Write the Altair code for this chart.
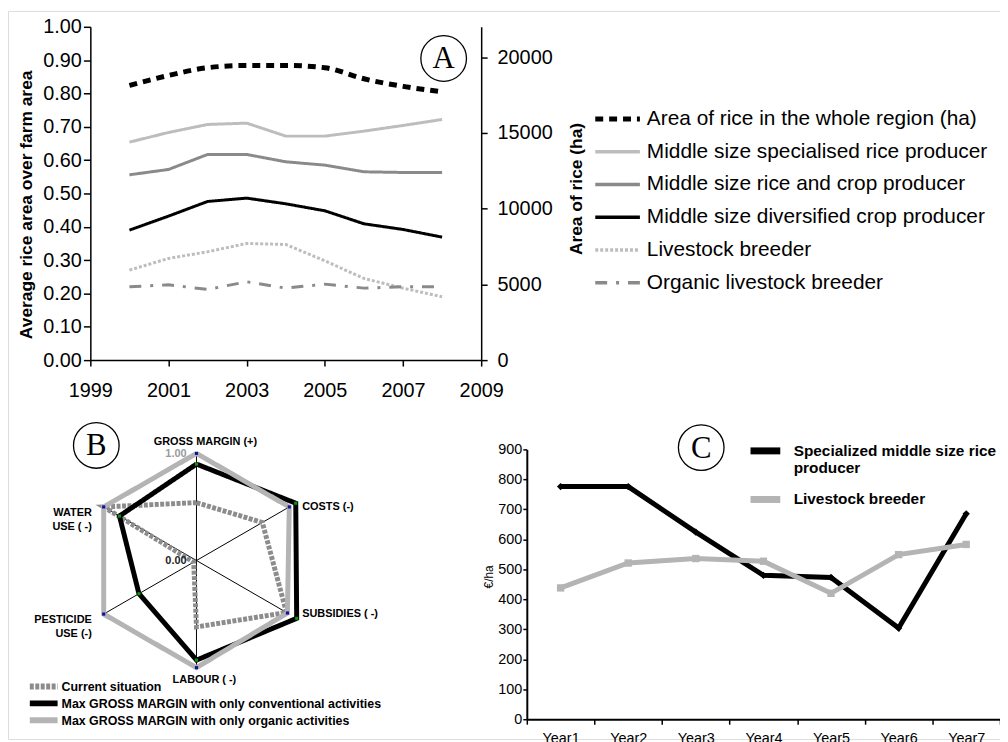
import altair as alt
import pandas as pd

# ---------------- Panel A data ----------------
years_a = [2000, 2001, 2002, 2003, 2004, 2005, 2006, 2007, 2008]
area_rice_ha = [18130, 18790, 19300, 19450, 19450, 19300, 18570, 18070, 17710]
specialised_rice = [0.654, 0.683, 0.707, 0.711, 0.672, 0.672, 0.687, 0.704, 0.722]
rice_and_crop = [0.556, 0.572, 0.617, 0.617, 0.595, 0.585, 0.565, 0.563, 0.563]
diversified_crop = [0.390, 0.432, 0.476, 0.486, 0.469, 0.448, 0.409, 0.392, 0.369]
livestock_a = [0.270, 0.305, 0.325, 0.350, 0.347, 0.298, 0.245, 0.216, 0.190]
organic_livestock = [0.220, 0.226, 0.212, 0.235, 0.216, 0.228, 0.216, 0.220, 0.220]
series_a = [
    "Area of rice in the whole region (ha)",
    "Middle size specialised rice producer",
    "Middle size rice and crop producer",
    "Middle size diversified crop producer",
    "Livestock breeder",
    "Organic livestock breeder",
]
year_ticks_a = [1999, 2001, 2003, 2005, 2007, 2009]
share_ticks = [0.0, 0.1, 0.2, 0.3, 0.4, 0.5, 0.6, 0.7, 0.8, 0.9, 1.0]
ha_ticks = [0, 5000, 10000, 15000, 20000]

# ---------------- Panel B data ----------------
radar_axes = ["GROSS  MARGIN  (+)", "COSTS  (-)", "SUBSIDIES ( -)", "LABOUR ( -)",
              "PESTICIDE\nUSE (-)", "WATER\nUSE ( -)"]
current_situation = [0.54, 0.71, 0.97, 0.62, 0.03, 1.00]
max_gm_conventional = [0.90, 1.07, 1.08, 0.93, 0.62, 0.83]
max_gm_organic = [1.00, 1.00, 0.98, 1.00, 1.00, 1.00]
scenarios = [
    "Current situation",
    "Max GROSS MARGIN with only conventional activities",
    "Max GROSS MARGIN with only organic activities",
]
radar_ticks = [0.0, 1.0]

# ---------------- Panel C data ----------------
years_c = ["Year1", "Year2", "Year3", "Year4", "Year5", "Year6", "Year7"]
specialized_c = [776, 776, 624, 480, 473, 304, 685]
livestock_c = [438, 521, 536, 527, 420, 549, 583]
producers_c = ["Specialized middle size rice producer", "Livestock breeder"]
euro_ticks = [0, 100, 200, 300, 400, 500, 600, 700, 800, 900]

panel_letters = ["A", "B", "C"]

# ---------------- tables ----------------
df_a = pd.DataFrame({
    "year": years_a * 5,
    "share": specialised_rice + rice_and_crop + diversified_crop + livestock_a + organic_livestock,
    "series": [s for s in series_a[1:] for _ in years_a],
})
df_area = pd.DataFrame({"year": years_a, "ha": area_rice_ha})
df_leg_a = pd.DataFrame({"series": series_a, "i": list(range(len(series_a)))})

radar_rows = []
for s, vals in zip(scenarios, [current_situation, max_gm_conventional, max_gm_organic]):
    for k in range(len(radar_axes) + 1):
        radar_rows.append({"scenario": s, "k": k, "value": vals[k % len(radar_axes)]})
df_radar = pd.DataFrame(radar_rows)
df_axes = pd.DataFrame({"k": list(range(len(radar_axes))), "label": radar_axes})
df_rticks = pd.DataFrame({"v": radar_ticks})
df_leg_b = pd.DataFrame({"scenario": scenarios, "i": list(range(len(scenarios)))})

df_c = pd.DataFrame({
    "year": years_c * 2,
    "eur": specialized_c + livestock_c,
    "producer": [p for p in producers_c for _ in years_c],
})

# annotation anchors, in each panel's data units
df_ann_a = pd.DataFrame({"x": [2008.04], "y": [0.905], "t": [panel_letters[0]]})
df_ann_b = pd.DataFrame({"x": [-0.935], "y": [1.074], "t": [panel_letters[1]]})
df_ann_c = pd.DataFrame({"x": [3.08], "y": [906.0], "t": [panel_letters[2]]})

# ---------------- layout / scales ----------------
FONT = "Liberation Sans"
W, H = 1000, 734


def lin(domain, rng):
    return alt.Scale(domain=domain, range=rng, nice=False, zero=False)


xA = lin([1999, 2009], [83, 477])
yA = lin([0, 1], [352, 16])
yA_ha = lin([0, 22000], [352, 16])
xB = lin([-1, 1], [82, 298])
yB = lin([-1, 1], [662, 446])
xC = alt.Scale(type="band", domain=years_c, range=[523, 1000], paddingInner=0, paddingOuter=0)
xC_idx = lin([0.5, 7.5], [523, 1000])
yC = lin([0, 900], [714, 442])
# legend boxes (symbol span 0..1, one row per entry)
xLegA = lin([0, 1], [592, 637])
yLegA = lin([0, len(series_a) - 1], [109, 274])
xLegB = lin([0, 1], [22, 50])
yLegB = lin([0, len(scenarios) - 1], [681, 715])

AX = dict(grid=False, domainColor="black", tickColor="black", labelColor="black",
          titleColor="black", labelFont=FONT, titleFont=FONT, labelFlush=False,
          labelOverlap=False)

# ---------------- Panel A ----------------
colors_a = ["black", "#bdbdbd", "#8a8a8a", "black", "#bdbdbd", "#8a8a8a"]
dashes_a = [[8, 6], [1, 0], [1, 0], [1, 0], [3, 2], [12, 9, 3, 9]]
color_a = alt.Scale(domain=series_a, range=colors_a)
dash_a = alt.Scale(domain=series_a, range=dashes_a)

a_lines = alt.Chart(df_a).mark_line(strokeWidth=3).encode(
    x=alt.X("year:Q", scale=xA, axis=alt.Axis(
        orient="bottom", offset=-(H - 352), values=year_ticks_a, format="d", title=None,
        labelFontSize=20, tickSize=6, labelPadding=15, domainWidth=1.5, tickWidth=1.5, **AX)),
    y=alt.Y("share:Q", scale=yA, axis=alt.Axis(
        orient="left", offset=-83, values=share_ticks, format=".2f",
        title="Average rice area over farm area", titleX=-64, titleY=195,
        titleAngle=270, titleBaseline="middle", titleAlign="center",
        titleFontSize=17.5, titleFontWeight="bold",
        labelFontSize=20, tickSize=7, labelPadding=2, domainWidth=1.5, tickWidth=1.5, **AX)),
    color=alt.Color("series:N", scale=color_a, legend=None),
    strokeDash=alt.StrokeDash("series:N", scale=dash_a, legend=None),
)

a_area = alt.Chart(df_area).mark_line(
    color="black", strokeWidth=5, strokeDash=[8, 6], interpolate="monotone"
).encode(
    x=alt.X("year:Q", scale=xA, axis=None),
    y=alt.Y("ha:Q", scale=yA_ha, axis=alt.Axis(
        orient="right", offset=-(W - 477), values=ha_ticks, format="d",
        title="Area of rice (ha)", titleX=96, titleY=179, titleAngle=270,
        titleBaseline="middle", titleAlign="center", titleFontSize=17.5,
        titleFontWeight="bold", labelFontSize=20, tickSize=6, labelPadding=10,
        domainWidth=1.5, tickWidth=1.5, **AX)),
)

leg_a_sym = alt.Chart(df_leg_a).transform_calculate(x0="0", x1="1").mark_rule().encode(
    x=alt.X("x0:Q", scale=xLegA, axis=None), x2="x1:Q",
    y=alt.Y("i:Q", scale=yLegA, axis=None),
    color=alt.Color("series:N", scale=color_a, legend=None),
    strokeDash=alt.StrokeDash("series:N", scale=dash_a, legend=None),
    strokeWidth=alt.condition("datum.i == 0", alt.value(5), alt.value(3.5)),
)
leg_a_txt = alt.Chart(df_leg_a).transform_calculate(x1="1").mark_text(
    font=FONT, fontSize=21, color="black", align="left", baseline="middle", dx=7
).encode(
    x=alt.X("x1:Q", scale=xLegA, axis=None),
    y=alt.Y("i:Q", scale=yLegA, axis=None),
    text="series:N",
)


def annotation(df, xs, ys):
    base = alt.Chart(df).encode(
        x=alt.X("x:Q", scale=xs, axis=None),
        y=alt.Y("y:Q", scale=ys, axis=None),
    )
    circ = base.mark_point(shape="circle", size=2116, filled=False, color="black",
                           strokeWidth=1.3, opacity=1)
    txt = base.mark_text(font="Liberation Serif", fontSize=31, color="black",
                         align="center", baseline="middle", dy=1).encode(text="t:N")
    return [circ, txt]


# ---------------- Panel B ----------------
trig = dict(theta="datum.k * PI / 3")
spokes = alt.Chart(df_axes).transform_calculate(**trig).transform_calculate(
    sx="sin(datum.theta)", sy="cos(datum.theta)", z="0"
).mark_rule(color="black", strokeWidth=1).encode(
    x=alt.X("z:Q", scale=xB, axis=None), y=alt.Y("z:Q", scale=yB, axis=None),
    x2="sx:Q", y2="sy:Q",
)

colors_b = ["#8c8c8c", "black", "#b4b4b4"]
dashes_b = [[4, 1.5], [1, 0], [1, 0]]
color_b = alt.Scale(domain=scenarios, range=colors_b)
dash_b = alt.Scale(domain=scenarios, range=dashes_b)

radar_lines = alt.Chart(df_radar).transform_calculate(**trig).transform_calculate(
    px="datum.value * sin(datum.theta)", py="datum.value * cos(datum.theta)"
).mark_line(strokeWidth=5, strokeJoin="miter").encode(
    x=alt.X("px:Q", scale=xB, axis=None),
    y=alt.Y("py:Q", scale=yB, axis=None),
    order=alt.Order("k:Q"),
    color=alt.Color("scenario:N", scale=color_b, legend=None),
    strokeDash=alt.StrokeDash("scenario:N", scale=dash_b, legend=None),
)

radar_dots = alt.Chart(df_radar).transform_filter(
    f"datum.k < {len(radar_axes)} && datum.scenario != '{scenarios[0]}'"
).transform_calculate(**trig).transform_calculate(
    px="datum.value * sin(datum.theta)", py="datum.value * cos(datum.theta)"
).mark_square(size=10, opacity=1).encode(
    x=alt.X("px:Q", scale=xB, axis=None),
    y=alt.Y("py:Q", scale=yB, axis=None),
    color=alt.Color("scenario:N", scale=alt.Scale(domain=scenarios[1:], range=["#109010", "#1010a0"]),
                    legend=None),
)


def radar_labels(cond, align, baseline, dx, dy):
    return alt.Chart(df_axes).transform_filter(cond).transform_calculate(**trig).transform_calculate(
        sx="sin(datum.theta)", sy="cos(datum.theta)"
    ).mark_text(font=FONT, fontSize=11, fontWeight="bold", color="black", align=align,
                baseline=baseline, dx=dx, dy=dy, lineBreak="\n", lineHeight=14).encode(
        x=alt.X("sx:Q", scale=xB, axis=None), y=alt.Y("sy:Q", scale=yB, axis=None),
        text="label:N",
    )


lab_top = radar_labels("datum.k == 0", "center", "bottom", 9, -6)
lab_right = radar_labels("datum.k == 1 || datum.k == 2", "left", "middle", 13, 0)
lab_bottom = radar_labels("datum.k == 3", "center", "top", 8, 6)
lab_left = radar_labels("datum.k == 4 || datum.k == 5", "right", "middle", -12, 6)

radar_tick_labels = alt.Chart(df_rticks).transform_calculate(z="0").mark_text(
    font=FONT, fontSize=11, fontWeight="bold", align="right", baseline="middle", dx=-10, dy=1
).encode(
    x=alt.X("z:Q", scale=xB, axis=None), y=alt.Y("v:Q", scale=yB, axis=None),
    text=alt.Text("v:Q", format=".2f"),
    color=alt.condition("datum.v > 0.5", alt.value("#9a9a9a"), alt.value("#222222")),
)

leg_b_sym = alt.Chart(df_leg_b).transform_calculate(x0="0", x1="1").mark_rule(strokeWidth=6).encode(
    x=alt.X("x0:Q", scale=xLegB, axis=None), x2="x1:Q",
    y=alt.Y("i:Q", scale=yLegB, axis=None),
    color=alt.Color("scenario:N", scale=color_b, legend=None),
    strokeDash=alt.StrokeDash("scenario:N", scale=dash_b, legend=None),
)
leg_b_txt = alt.Chart(df_leg_b).transform_calculate(x1="1").mark_text(
    font=FONT, fontSize=12.5, fontWeight="bold", color="black", align="left",
    baseline="middle", dx=4, dy=1
).encode(
    x=alt.X("x1:Q", scale=xLegB, axis=None),
    y=alt.Y("i:Q", scale=yLegB, axis=None),
    text="scenario:N",
)

# ---------------- Panel C ----------------
colors_c = ["black", "#b4b4b4"]
split_label = producers_c[0].rsplit(" ", 1)
leg_c = dict(title=None, orient="none", legendX=745, legendY=425, symbolType="stroke",
             symbolSize=900, symbolStrokeWidth=7, labelFontSize=15.5, labelFontWeight="bold",
             labelFont=FONT, labelColor="black", rowPadding=4, labelOffset=10, labelLimit=0,
             labelExpr=f"datum.label == '{producers_c[0]}' ? ['{split_label[0]}', '{split_label[1]}'] : datum.label")

c_lines = alt.Chart(df_c).mark_line(strokeWidth=5).encode(
    x=alt.X("year:N", scale=xC, bandPosition=0.5, sort=years_c, axis=alt.Axis(
        orient="bottom", offset=-(H - 714), tickBand="extent", title=None, labelAngle=0,
        labelFontSize=14.5, tickSize=5, labelPadding=7, domainWidth=2, tickWidth=1.5, **AX)),
    y=alt.Y("eur:Q", scale=yC, axis=alt.Axis(
        orient="left", offset=-523, values=euro_ticks, format="d", title="€/ha",
        titleX=-39, titleY=570, titleAngle=270, titleBaseline="middle", titleAlign="center",
        titleFontSize=12, titleFontWeight="normal", labelFontSize=14.5, tickSize=4,
        labelPadding=1, domainWidth=2, tickWidth=1.5, **AX)),
    color=alt.Color("producer:N", scale=alt.Scale(domain=producers_c, range=colors_c),
                    legend=alt.Legend(**leg_c)),
)

c_points = alt.Chart(df_c).mark_point(filled=True, size=55, opacity=1).encode(
    x=alt.X("year:N", scale=xC, bandPosition=0.5, sort=years_c, axis=None),
    y=alt.Y("eur:Q", scale=yC, axis=None),
    color=alt.Color("producer:N", scale=alt.Scale(domain=producers_c, range=colors_c), legend=None),
    shape=alt.Shape("producer:N", scale=alt.Scale(domain=producers_c, range=["diamond", "square"]),
                    legend=None),
)

layers = (
    [a_lines, a_area, leg_a_sym, leg_a_txt] + annotation(df_ann_a, xA, yA)
    + [spokes, radar_lines, radar_dots, lab_top, lab_right, lab_bottom, lab_left,
       radar_tick_labels, leg_b_sym, leg_b_txt]
    + annotation(df_ann_b, xB, yB)
    + [c_lines, c_points] + annotation(df_ann_c, xC_idx, yC)
)

chart = alt.layer(*layers).resolve_scale(
    x="independent", y="independent", color="independent",
    strokeDash="independent", shape="independent",
).resolve_axis(x="independent", y="independent").resolve_legend(
    color="independent", strokeDash="independent", shape="independent",
).properties(
    width=W, height=H, padding=0, autosize=alt.AutoSizeParams(type="none"),
).configure_view(stroke=None).configure(font=FONT)

chart.save("out.html", embed_options={"renderer": "svg", "actions": False})
